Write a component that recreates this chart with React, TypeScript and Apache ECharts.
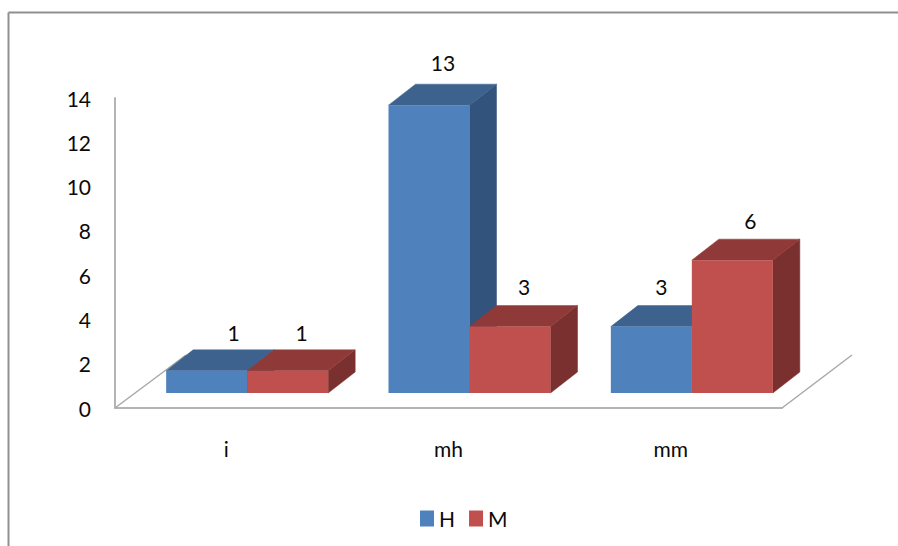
import React, { useEffect, useRef } from "react";
import * as echarts from "echarts";

const categories = ["i", "mh", "mm"];
const seriesNames = ["H", "M"];
const valuesH = [1, 13, 3];
const valuesM = [1, 3, 6];
const yTicks = [0, 14];

// Palette per series: front, top, side
const palette = [
  { front: "#4F81BD", top: "#3E628E", side: "#31537C" },
  { front: "#C0504D", top: "#8F3A38", side: "#7A302E" },
];

const FONT = "Lato, sans-serif";
const FONT_SIZE = 21;
const TEXT = "#0a0a0a";
const AXIS = "#b4b4b4";
const GRID = { left: 115, top: 98, width: 667, height: 310 };
// 3D projection in pixels
const FLOOR_LIFT = 15;
const FLOOR_SHIFT = 21;
const DEPTH_X = 27;
const DEPTH_Y = 21;
const BAR_SHARE = 81 / 222.33;
// Small hand-placed shifts of the value labels [series][category]
const labelShift = [
  [27, 14, 10],
  [14, 14, 18],
];
const labelRise = [
  [38, 43, 40],
  [38, 40, 40],
];

function barRenderer(seriesIndex: number) {
  return (params: any, api: any) => {
    const cat = api.value(0);
    const val = api.value(1);
    const band = api.size([1, 0])[0];
    const w = band * BAR_SHARE;
    const [cx, yTop0] = api.coord([cat, val]);
    const [, yBase0] = api.coord([cat, 0]);
    const x0 = cx + FLOOR_SHIFT + (seriesIndex === 0 ? -w : 0);
    const x1 = x0 + w;
    const yTop = yTop0 - FLOOR_LIFT;
    const yBase = yBase0 - FLOOR_LIFT;
    const c = palette[seriesIndex];
    const poly = (points: number[][], fill: string) => ({
      type: "polygon",
      shape: { points },
      style: { fill, stroke: fill, lineWidth: 0.5 },
    });
    return {
      type: "group",
      children: [
        poly(
          [
            [x1, yTop],
            [x1 + DEPTH_X, yTop - DEPTH_Y],
            [x1 + DEPTH_X, yBase - DEPTH_Y],
            [x1, yBase],
          ],
          c.side,
        ),
        poly(
          [
            [x0, yTop],
            [x0 + DEPTH_X, yTop - DEPTH_Y],
            [x1 + DEPTH_X, yTop - DEPTH_Y],
            [x1, yTop],
          ],
          c.top,
        ),
        {
          type: "rect",
          shape: { x: x0, y: yTop, width: w, height: yBase - yTop },
          style: { fill: c.front },
        },
        {
          type: "text",
          style: {
            text: String(val),
            x: x0 + w / 2 + labelShift[seriesIndex][cat],
            y: yTop - labelRise[seriesIndex][cat],
            align: "center",
            verticalAlign: "middle",
            font: `${FONT_SIZE}px ${FONT}`,
            fill: TEXT,
          },
        },
      ],
    };
  };
}

export default function App() {
  const ref = useRef<HTMLDivElement>(null);
  useEffect(() => {
    const chart = echarts.init(ref.current!, undefined, { renderer: "svg" });
    const build = (vals: number[]) => vals.map((v, i) => [i, v]);
    chart.setOption({
      animation: false,
      backgroundColor: "#ffffff",
      grid: GRID,
      legend: {
        left: 420,
        top: 508,
        padding: 0,
        itemWidth: 14,
        itemHeight: 16,
        itemGap: 14,
        icon: "rect",
        data: seriesNames,
        textStyle: { fontFamily: FONT, fontSize: FONT_SIZE, color: TEXT },
      },
      xAxis: {
        type: "category",
        data: categories,
        axisLine: { show: true, lineStyle: { color: AXIS, width: 2 } },
        axisTick: { show: false },
        axisLabel: {
          margin: 30,
          fontFamily: FONT,
          fontSize: FONT_SIZE,
          color: TEXT,
        },
      },
      yAxis: {
        type: "value",
        min: yTicks[0],
        max: yTicks[1],
        interval: 2,
        splitLine: { show: false },
        axisLine: { show: true, lineStyle: { color: AXIS, width: 2 } },
        axisTick: { show: false },
        axisLabel: {
          margin: 24,
          padding: [3, 0, 0, 0],
          fontFamily: FONT,
          fontSize: FONT_SIZE,
          color: TEXT,
        },
      },
      series: [
        {
          name: seriesNames[0],
          type: "custom",
          renderItem: barRenderer(0),
          itemStyle: { color: palette[0].front },
          encode: { x: 0, y: 1 },
          data: build(valuesH),
          z: 3,
        },
        {
          name: seriesNames[1],
          type: "custom",
          renderItem: barRenderer(1),
          itemStyle: { color: palette[1].front },
          encode: { x: 0, y: 1 },
          data: build(valuesM),
          z: 4,
        },
      ],
      graphic: [
        {
          type: "line",
          z: 1,
          shape: { x1: 8.5, y1: 12.5, x2: 898, y2: 12.5 },
          style: { stroke: "#8f8f8f", lineWidth: 2 },
        },
        {
          type: "line",
          z: 1,
          shape: { x1: 8.5, y1: 12.5, x2: 8.5, y2: 546 },
          style: { stroke: "#8f8f8f", lineWidth: 2 },
        },
        {
          type: "line",
          z: 1,
          shape: { x1: 115, y1: 408, x2: 186, y2: 355 },
          style: { stroke: "#a8a8a8", lineWidth: 1.5 },
        },
        {
          type: "line",
          z: 1,
          shape: { x1: 782, y1: 408, x2: 852, y2: 355 },
          style: { stroke: "#a8a8a8", lineWidth: 1.5 },
        },
      ],
    });
    return () => chart.dispose();
  }, []);
  return (
    <div
      ref={ref}
      style={{ position: "fixed", left: 0, top: 0, width: 898, height: 546 }}
    />
  );
}
